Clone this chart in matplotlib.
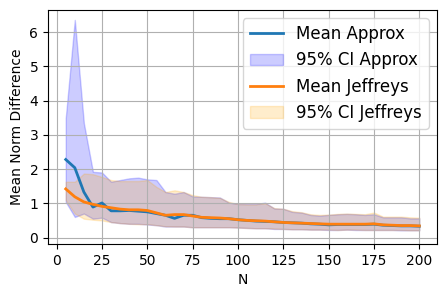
import numpy as np
import matplotlib
matplotlib.use('Agg')
import matplotlib.pyplot as plt

n_values = np.arange(5, 205, 5)

mean_approx = [2.28, 2.04, 1.33, 0.89, 1.01, 0.78, 0.78, 0.79, 0.77, 0.75,
               0.70, 0.65, 0.56, 0.65, 0.65, 0.58, 0.56, 0.55, 0.55, 0.52,
               0.50, 0.48, 0.47, 0.46, 0.44, 0.43, 0.42, 0.40, 0.39, 0.37,
               0.38, 0.38, 0.38, 0.38, 0.39, 0.36, 0.35, 0.34, 0.34, 0.33]
upper_approx = [3.49, 6.36, 3.34, 1.92, 1.90, 1.63, 1.68, 1.73, 1.75, 1.70,
                1.68, 1.33, 1.28, 1.33, 1.20, 1.19, 1.18, 1.17, 1.02, 0.98,
                0.98, 0.98, 1.02, 0.85, 0.84, 0.75, 0.73, 0.66, 0.64, 0.66,
                0.68, 0.69, 0.68, 0.66, 0.68, 0.59, 0.59, 0.59, 0.56, 0.56]
lower_approx = [1.04, 0.60, 0.70, 0.55, 0.58, 0.45, 0.42, 0.40, 0.40, 0.38,
                0.36, 0.32, 0.32, 0.32, 0.30, 0.30, 0.30, 0.30, 0.30, 0.29,
                0.28, 0.27, 0.27, 0.25, 0.25, 0.24, 0.24, 0.23, 0.23, 0.22,
                0.22, 0.23, 0.22, 0.22, 0.22, 0.22, 0.22, 0.21, 0.21, 0.21]

mean_jeffreys = [1.42, 1.19, 1.04, 0.97, 0.91, 0.87, 0.83, 0.81, 0.81, 0.79,
                 0.72, 0.65, 0.67, 0.67, 0.63, 0.59, 0.58, 0.57, 0.55, 0.52,
                 0.50, 0.49, 0.48, 0.46, 0.44, 0.43, 0.42, 0.41, 0.40, 0.39,
                 0.39, 0.39, 0.39, 0.39, 0.40, 0.37, 0.36, 0.35, 0.35, 0.34]
upper_jeffreys = [1.63, 1.63, 1.87, 1.85, 1.77, 1.68, 1.65, 1.65, 1.65, 1.68,
                  1.48, 1.33, 1.38, 1.33, 1.24, 1.19, 1.18, 1.16, 1.04, 0.98,
                  0.97, 0.97, 1.00, 0.86, 0.84, 0.77, 0.74, 0.68, 0.66, 0.67,
                  0.69, 0.70, 0.69, 0.68, 0.73, 0.61, 0.61, 0.61, 0.59, 0.58]
lower_jeffreys = [1.09, 0.70, 0.55, 0.52, 0.50, 0.45, 0.42, 0.40, 0.39, 0.39,
                  0.36, 0.33, 0.32, 0.32, 0.30, 0.30, 0.30, 0.30, 0.30, 0.29,
                  0.28, 0.27, 0.27, 0.26, 0.25, 0.24, 0.24, 0.23, 0.23, 0.23,
                  0.22, 0.23, 0.23, 0.22, 0.22, 0.22, 0.22, 0.22, 0.21, 0.21]

fig, ax = plt.subplots(figsize=(4.45, 2.94), dpi=100)
fig.subplots_adjust(left=0.108, right=0.982, top=0.966, bottom=0.170)

ax.plot(n_values, mean_approx, color='C0', linewidth=2, label='Mean Approx')
ax.fill_between(n_values, lower_approx, upper_approx, color='blue', alpha=0.2,
                label='95% CI Approx')
ax.plot(n_values, mean_jeffreys, color='C1', linewidth=2, label='Mean Jeffreys')
ax.fill_between(n_values, lower_jeffreys, upper_jeffreys, color='orange', alpha=0.2,
                label='95% CI Jeffreys')

ax.set_xlabel('N')
ax.set_ylabel('Mean Norm Difference')
ax.set_xticks(np.arange(0, 201, 25))
ax.set_ylim(-0.19, 6.65)
ax.grid(True)
ax.legend(loc='upper right', fontsize=12)

plt.savefig('out.png', dpi=100)
